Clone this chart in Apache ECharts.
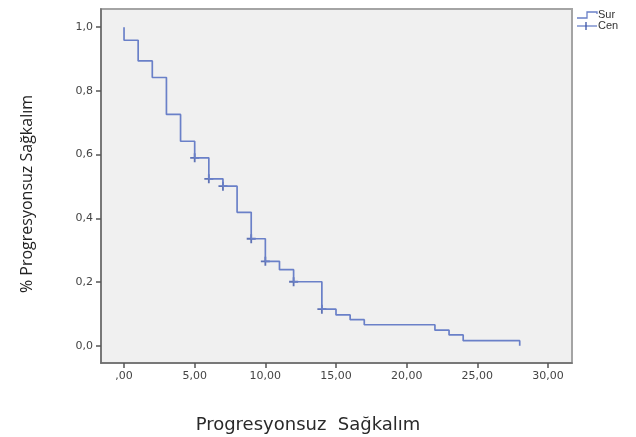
<!DOCTYPE html>
<html>
<head>
<meta charset="utf-8">
<script src="https://cdn.jsdelivr.net/npm/echarts@6/dist/echarts.min.js"></script>
<style>html,body{margin:0;padding:0;background:#fff;}#c{width:636px;height:437px;}</style>
</head>
<body>
<div id="c"></div>
<script>
const times = [0, 0, 1, 2, 3, 4, 5, 6, 7, 8, 9, 10, 11, 12, 14, 15, 16, 17, 22, 23, 24, 28];
const survival = [1.0, 0.959, 0.894, 0.842, 0.726, 0.642, 0.590, 0.524, 0.501, 0.419, 0.336, 0.265, 0.239, 0.201, 0.115, 0.097, 0.082, 0.066, 0.049, 0.034, 0.016, 0.0];
const censorTimes = [5, 6, 7, 9, 10, 12, 14];
const censorSurvival = [0.590, 0.524, 0.501, 0.336, 0.265, 0.201, 0.115];
const xTicks = [0, 5, 10, 15, 20, 25, 30];
const yTicks = [0, 0.2, 0.4, 0.6, 0.8, 1.0];
const xTitle = 'Progresyonsuz  Sağkalım';
const yTitle = '% Progresyonsuz Sağkalım';
const legendNames = ['Sur', 'Cen'];

const lineColor = '#6a80c8';
const markColor = '#3a52a6';

function fmtX(v) {
  const s = v.toFixed(2).replace('.', ',');
  return s.startsWith('0,') ? s.slice(1) : s;
}
function fmtY(v) {
  return v.toFixed(1).replace('.', ',');
}

const chart = echarts.init(document.getElementById('c'), null, {renderer: 'canvas'});
chart.setOption({
  animation: false,
  backgroundColor: '#ffffff',
  grid: {
    left: 101, top: 9, right: 64, bottom: 74,
    show: true, backgroundColor: '#f0f0f0', borderColor: '#a4a4a4', borderWidth: 2
  },
  xAxis: {
    type: 'value', min: -1.63, max: 31.7,
    axisLine: {show: true, onZero: false, lineStyle: {color: '#6a6a6a', width: 1.5}},
    axisTick: {show: true, customValues: xTicks, length: 5, lineStyle: {color: '#555', width: 1.5}},
    axisLabel: {customValues: xTicks, formatter: fmtX, margin: 8, color: '#444', fontSize: 11, fontFamily: 'DejaVu Sans'},
    splitLine: {show: false}
  },
  yAxis: {
    type: 'value', min: -0.054, max: 1.057,
    axisLine: {show: true, onZero: false, lineStyle: {color: '#6a6a6a', width: 1.5}},
    axisTick: {show: true, customValues: yTicks, length: 5, lineStyle: {color: '#555', width: 1.5}},
    axisLabel: {customValues: yTicks, formatter: fmtY, margin: 8, color: '#444', fontSize: 11, fontFamily: 'DejaVu Sans'},
    splitLine: {show: false}
  },
  series: [
    {
      name: legendNames[0], type: 'line', step: 'end', showSymbol: false,
      data: times.map((t, i) => [t, survival[i]]),
      lineStyle: {color: lineColor, width: 1.7}
    },
    {
      name: legendNames[1], type: 'scatter',
      symbol: 'path://M4,0 L6,0 L6,4 L10,4 L10,6 L6,6 L6,10 L4,10 L4,6 L0,6 L0,4 L4,4 Z',
      symbolSize: 9,
      data: censorTimes.map((t, i) => [t, censorSurvival[i]]),
      itemStyle: {color: markColor}
    }
  ],
  graphic: [
    {type: 'text', style: {text: xTitle, font: '18px "DejaVu Sans"', fill: '#2a2a2a', x: 308, y: 425, align: 'center', verticalAlign: 'middle'}},
    {type: 'text', x: 27, y: 194, rotation: Math.PI / 2, style: {text: yTitle, font: '16px "Open Sans"', fill: '#222', align: 'center', verticalAlign: 'middle'}},
    {type: 'polyline', shape: {points: [[577, 18], [587, 18], [587, 12], [597, 12], [597, 14]]}, style: {stroke: lineColor, lineWidth: 1.3, fill: null}},
    {type: 'text', style: {text: legendNames[0], x: 598, y: 15, font: '11px "Liberation Sans"', fill: '#333', verticalAlign: 'middle'}},
    {type: 'line', shape: {x1: 577, y1: 26, x2: 597, y2: 26}, style: {stroke: lineColor, lineWidth: 1.3}},
    {type: 'line', shape: {x1: 586, y1: 22, x2: 586, y2: 30}, style: {stroke: markColor, lineWidth: 1.3}},
    {type: 'text', style: {text: legendNames[1], x: 598, y: 26, font: '11px "Liberation Sans"', fill: '#333', verticalAlign: 'middle'}}
  ]
});
</script>
</body>
</html>
